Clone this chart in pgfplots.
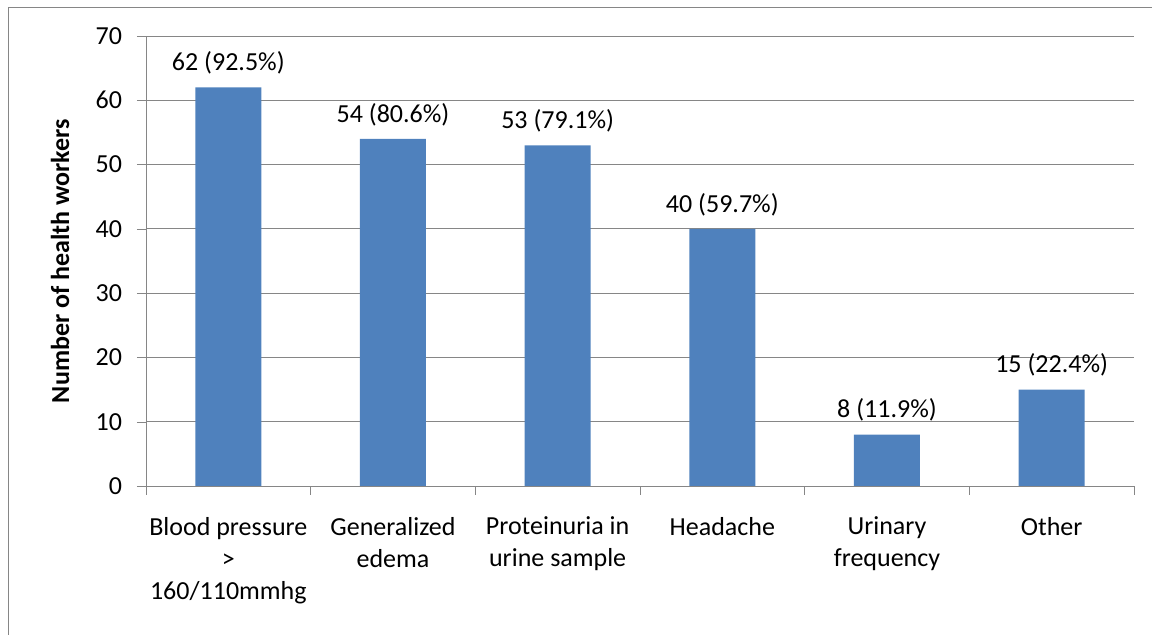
\documentclass[border=0pt]{standalone}
\usepackage{fontspec}
\setmainfont{Carlito}
\usepackage{pgfplots}
\usepackage{pgfplotstable}
\pgfplotsset{compat=1.18}
\definecolor{barblue}{HTML}{4F81BD}
\definecolor{gridgray}{HTML}{868686}

\pgfplotstableread{
x n pct
0 62 92.5
1 54 80.6
2 53 79.1
3 40 59.7
4 8 11.9
5 15 22.4
}\datatable

\begin{document}
\begin{tikzpicture}
\begin{axis}[
    name=ax,
    scale only axis,
    width=494pt, height=225pt,
    font=\fontsize{13}{16}\selectfont,
    /pgf/number format/assume math mode=true,
    xmin=-0.5, xmax=5.5,
    ymin=0, ymax=70,
    ytick={0,10,...,70},
    xtick={-0.5,0.5,...,5.5},
    x tick label as interval,
    xticklabels={{Blood pressure\\>\\160/110mmhg},{Generalized\\edema},{Proteinuria in\\urine sample},{Headache},{Urinary\\frequency},{Other}},
    xticklabel style={align=center, yshift=-7.5pt},
    yticklabel style={xshift=-4pt},
    axis x line*=bottom,
    axis y line*=left,
    axis line style={draw=gridgray, -},
    tick align=outside,
    major tick length=4.5pt,
    tick style={gridgray},
    ymajorgrids,
    grid style={gridgray},
    every axis y label/.style={at={(rel axis cs:0,0.5)}, xshift=-43pt, rotate=90, anchor=center, font=\fontsize{13}{16}\selectfont\bfseries},
    ylabel={Number of health workers},
]
\addplot[ybar, bar width=33pt, fill=barblue, draw=none,
    visualization depends on={\thisrow{pct}\as\pct},
    nodes near coords={\pgfmathprintnumber{\pgfplotspointmeta} (\pgfmathprintnumber[fixed,fixed zerofill,precision=1]{\pct}\%)},
    nodes near coords style={anchor=south, yshift=3pt, font=\fontsize{13}{16}\selectfont},
] table[x=x, y=n] {\datatable};
\end{axis}
\draw[gridgray] ([shift={(-69pt,-80pt)}]ax.south west) -- ([shift={(-69pt,239.5pt)}]ax.south west) -- ([shift={(520pt,239.5pt)}]ax.south west);
\pgfresetboundingbox
\path[use as bounding box] ([shift={(-73pt,-74.5pt)}]ax.south west) rectangle ([shift={(503pt,243pt)}]ax.south west);
\end{tikzpicture}
\end{document}
